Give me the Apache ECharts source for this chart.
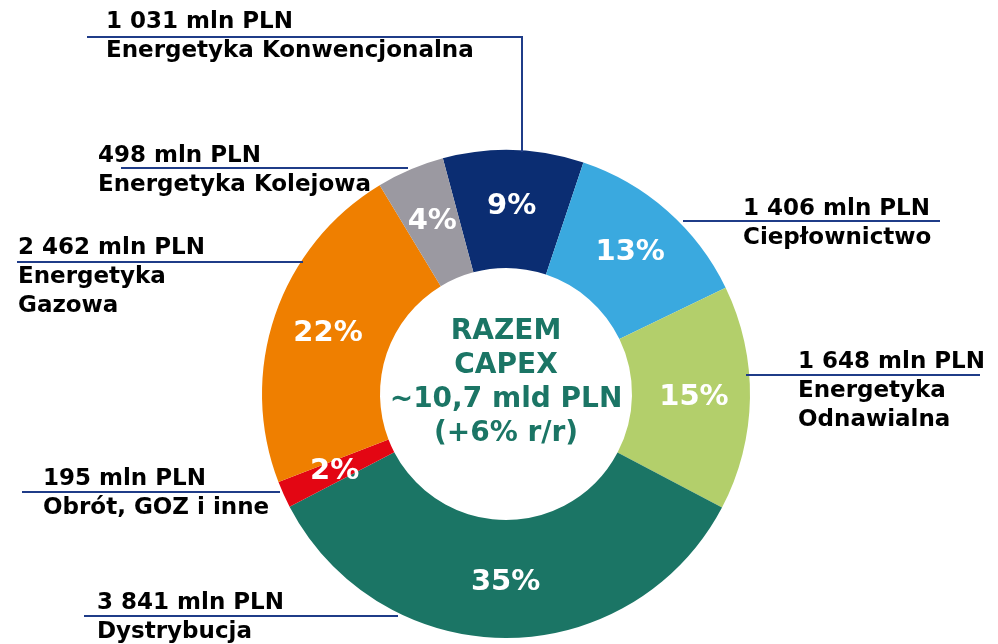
<!DOCTYPE html>
<html>
<head>
<meta charset="utf-8">
<style>
html, body { margin: 0; padding: 0; background: #fff; }
#main { width: 998px; height: 644px; }
</style>
<script src="https://cdn.jsdelivr.net/npm/echarts@6/dist/echarts.min.js"></script>
</head>
<body>
<div id="main"></div>
<script>
// segments clockwise from the top
var segments = ['Energetyka Konwencjonalna', 'Ciepłownictwo', 'Energetyka\nOdnawialna', 'Dystrybucja', 'Obrót, GOZ i inne', 'Energetyka\nGazowa', 'Energetyka Kolejowa'];
var capexMln = [1031, 1406, 1648, 3841, 195, 2462, 498];
var sharePct = [9, 13, 15, 35, 2, 22, 4];
var colors = ['#0b2d72', '#3aa9df', '#b3cf6b', '#1b7565', '#e30613', '#ef7f00', '#9b99a1'];
var centerLines = ['RAZEM', 'CAPEX', '~10,7 mld PLN', '(+6% r/r)'];

// label placement: centre of first text line + leader line points
var labelPos = [
    { x: 106, cy: 22, line: [[522, 152], [522, 37], [87, 37]] },
    { x: 743, cy: 209, line: [[683, 221], [800, 221], [940, 221]] },
    { x: 798, cy: 362, line: [[746, 375], [860, 375], [980, 375]] },
    { x: 97, cy: 603, line: [[398, 616], [250, 616], [84, 616]] },
    { x: 43, cy: 479, line: [[280, 492], [150, 492], [22, 492]] },
    { x: 18, cy: 248, line: [[303, 262], [150, 262], [17, 262]] },
    { x: 98, cy: 156, line: [[408, 168], [300, 168], [121, 168]] }
];

var LH = 29;
var fontFam = '"DejaVu Sans", Verdana, sans-serif';

function fmt(v) {
    return String(v).replace(/\B(?=(\d{3})+(?!\d))/g, ' ');
}

var pieData = segments.map(function (name, i) {
    return { name: name, value: capexMln[i], itemStyle: { color: colors[i] } };
});

var myChart = echarts.init(document.getElementById('main'));

var option = {
    backgroundColor: '#fff',
    animation: false,
    graphic: [{
        type: 'text',
        x: 506,
        y: 383,
        style: {
            text: centerLines.join('\n'),
            fill: '#1b7565',
            fontSize: 28,
            fontWeight: 'bold',
            fontFamily: fontFam,
            lineHeight: 34,
            align: 'center',
            verticalAlign: 'middle'
        }
    }],
    series: [
        {
            // slices + percentages
            type: 'pie',
            center: [506, 394],
            radius: [126, 244],
            startAngle: 105,
            clockwise: true,
            avoidLabelOverlap: false,
            silent: true,
            itemStyle: { borderWidth: 0 },
            label: {
                show: true,
                position: 'inside',
                color: '#fff',
                fontSize: 29,
                fontWeight: 'bold',
                fontFamily: fontFam,
                formatter: function (p) { return sharePct[p.dataIndex] + '%'; }
            },
            labelLine: { show: false },
            data: pieData
        },
        {
            // outside labels with leader lines
            type: 'pie',
            center: [506, 394],
            radius: [126, 244],
            startAngle: 105,
            clockwise: true,
            avoidLabelOverlap: false,
            silent: true,
            z: 3,
            itemStyle: { color: 'rgba(0,0,0,0)', borderWidth: 0 },
            label: {
                show: true,
                position: 'outside',
                color: '#000',
                fontSize: 23,
                fontWeight: 'bold',
                fontFamily: fontFam,
                lineHeight: LH,
                align: 'left',
                formatter: function (p) { return fmt(capexMln[p.dataIndex]) + ' mln PLN\n' + segments[p.dataIndex]; }
            },
            labelLine: {
                show: true,
                lineStyle: { color: '#1f3c88', width: 2 }
            },
            labelLayout: function (params) {
                var lp = labelPos[params.dataIndex];
                return {
                    x: lp.x,
                    y: lp.cy - LH / 2,
                    align: 'left',
                    verticalAlign: 'top',
                    labelLinePoints: lp.line
                };
            },
            data: segments.map(function (name, i) {
                return { name: name, value: capexMln[i] };
            })
        }
    ]
};

myChart.setOption(option);
</script>
</body>
</html>
